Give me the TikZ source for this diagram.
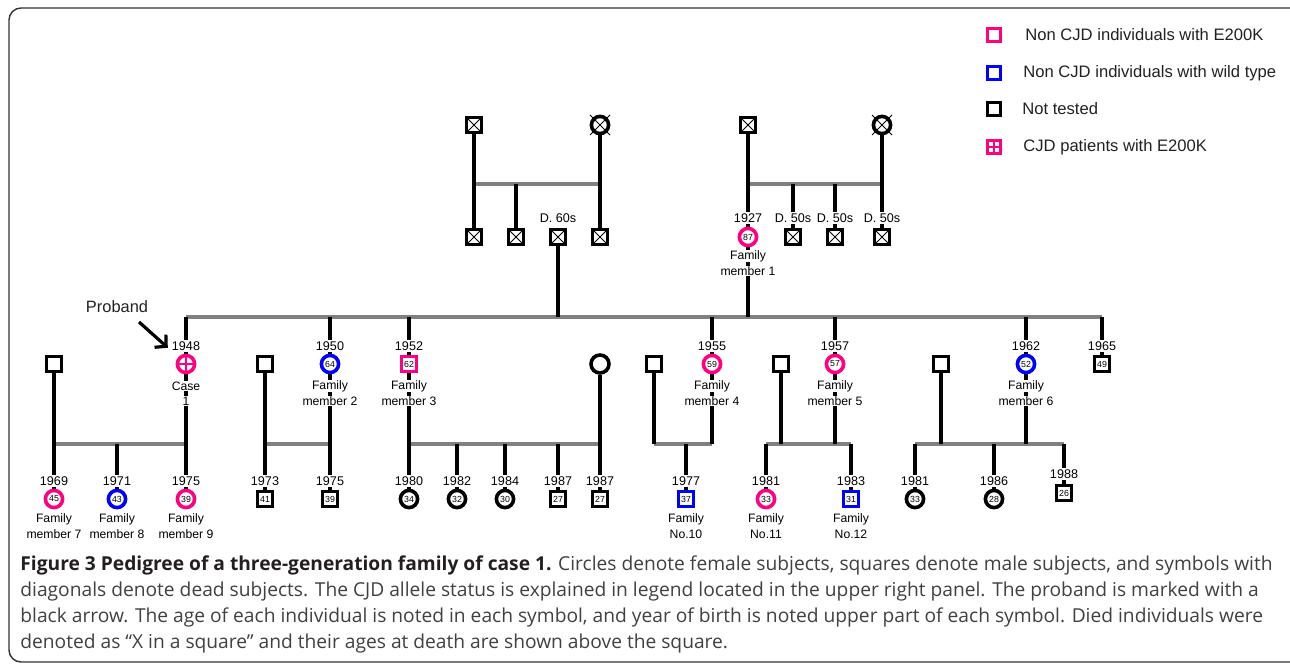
\documentclass[tikz,border=0pt]{standalone}
\usepackage{fontspec}
\setmainfont{Liberation Sans}
\newfontfamily\capfont{Open Sans}
\usetikzlibrary{arrows.meta}
\pgfdeclarelayer{bg}
\pgfsetlayers{bg,main}
\definecolor{cjdpink}{RGB}{255,0,128}
\definecolor{cjdblue}{RGB}{0,0,255}
\definecolor{sibgray}{RGB}{128,128,128}
\definecolor{capgray}{RGB}{64,64,64}
\definecolor{capdark}{RGB}{35,31,32}
\definecolor{framegray}{RGB}{50,50,50}
\tikzset{
  sym/.style={draw=black, line width=1.8pt, fill=white, inner sep=0pt, font=\fontsize{4.4}{4.4}\selectfont},
  male/.style={sym, rectangle, minimum size=7.6pt},
  female/.style={sym, circle, minimum size=8.6pt},
  epk/.style={draw=cjdpink},
  wt/.style={draw=cjdblue},
  deadsq/.style={path picture={\draw[line width=0.5pt] (path picture bounding box.north west) -- (path picture bounding box.south east) (path picture bounding box.north east) -- (path picture bounding box.south west);}},
  cjdcross/.style={path picture={\draw[cjdpink, line width=1.2pt] (path picture bounding box.north) -- (path picture bounding box.south) (path picture bounding box.west) -- (path picture bounding box.east);}},
  yr/.style={fill=white, inner sep=0.6pt, font=\fontsize{6.3}{7}\selectfont},
  lab/.style={fill=white, inner sep=0.4pt, font=\fontsize{6.1}{7}\selectfont},
  ln/.style={line width=1.6pt, black},
  sib/.style={line width=1.6pt, sibgray},
  legtext/.style={anchor=west, inner sep=0pt, font=\fontsize{8.3}{9}\selectfont, text=black!87},
  captext/.style={anchor=base west, inner sep=0pt, font=\capfont\fontsize{9.6}{11}\selectfont, text=capgray},
  probarrow/.style={line width=1.6pt, -{Straight Barb[length=4pt, width=8.5pt, line width=1.6pt]}}
}
\begin{document}
\begin{tikzpicture}[x=0.5pt, y=-0.5pt]
\useasboundingbox (0,0) rectangle (1290,664);
% frame
\draw[framegray, line width=0.7pt, rounded corners=6pt] (1295,8) -- (9,8) -- (9,662) -- (1295,662);

% ---------- Generation I ----------
\node[male, deadsq] (gf1) at (474,125) {};
\node[female] (gm1) at (600,125) {};
\node[male, deadsq] (gf2) at (748,125) {};
\node[female] (gm2) at (882,125) {};
\coordinate (s1l) at (474,184);
\coordinate (s1r) at (600,184);
\coordinate (s2l) at (748,184);
\coordinate (s2r) at (882,184);

\node[male, deadsq] (u1) at (474,237) {};
\node[male, deadsq] (u2) at (516,237) {};
\node[male, deadsq] (u3) at (558,237) {};
\node[male, deadsq] (u4) at (600,237) {};
\node[female, epk] (fm1) at (748,237) {87};
\node[male, deadsq] (u5) at (793,237) {};
\node[male, deadsq] (u6) at (835,237) {};
\node[male, deadsq] (u7) at (882,237) {};
\node[yr] at (558,218) {D. 60s};
\node[yr] at (748,218) {1927};
\node[yr] at (793,218) {D. 50s};
\node[yr] at (835,218) {D. 50s};
\node[yr] at (882,218) {D. 50s};
\node[lab] at (748,256) {Family};
\node[lab] at (748,271) {member 1};

\coordinate (m1) at (186,317);
\coordinate (m2) at (1102,317);

% ---------- Generation II ----------
\node[female, epk, cjdcross] (case1) at (186,364) {};
\node[female, wt] (mem2) at (330,364) {64};
\node[male, epk] (mem3) at (409,364) {62};
\node[female, epk] (mem4) at (712,364) {59};
\node[female, epk] (mem5) at (835,364) {57};
\node[female, wt] (mem6) at (1026,364) {52};
\node[male] (b65) at (1102,364) {49};
\node[male] (sp1) at (54,364) {};
\node[male] (sp2) at (265,364) {};
\node[female, minimum size=9pt] (sp3) at (600,364) {};
\node[male] (sp4) at (654,364) {};
\node[male] (sp5) at (781,364) {};
\node[male] (sp6) at (941,364) {};

\node[yr] at (186,346) {1948};
\node[yr] at (330,346) {1950};
\node[yr] at (409,346) {1952};
\node[yr] at (712,346) {1955};
\node[yr] at (835,346) {1957};
\node[yr] at (1026,346) {1962};
\node[yr] at (1102,346) {1965};
\node[lab] at (186,386) {Case};
\node[lab] at (186,401) {1};
\foreach \x/\n in {330/2, 409/3, 712/4, 835/5, 1026/6} {
  \node[lab] at (\x,386) {Family};
  \node[lab] at (\x,401) {member \n};
}

% ---------- Generation III ----------
\coordinate (sA) at (54,444);   \coordinate (sAr) at (186,444);
\coordinate (sB) at (265,444);  \coordinate (sBr) at (330,444);
\coordinate (sC) at (409,444);  \coordinate (sCr) at (600,444);
\coordinate (sD) at (654,444);  \coordinate (sDr) at (712,444);
\coordinate (sE) at (766,444);  \coordinate (sEr) at (851,444);
\coordinate (sF) at (915,444);  \coordinate (sFr) at (1064,444);

\node[female, epk] (a1) at (54,499) {45};
\node[female, wt] (a2) at (117,499) {43};
\node[female, epk] (a3) at (186,499) {39};
\node[male] (b1) at (265,499) {41};
\node[male] (b2) at (330,499) {39};
\node[female] (c1) at (409,499) {34};
\node[female] (c2) at (457,499) {32};
\node[female] (c3) at (505,499) {30};
\node[male] (c4) at (558,499) {27};
\node[male] (c5) at (600,499) {27};
\node[male, wt] (d1) at (686,499) {37};
\node[female, epk] (e1) at (766,499) {33};
\node[male, wt] (e2) at (851,499) {31};
\node[female] (f1) at (915,499) {33};
\node[female] (f2) at (994,499) {28};
\node[male] (f3) at (1064,493) {26};

\foreach \x/\y in {54/1969, 117/1971, 186/1975, 265/1973, 330/1975, 409/1980, 457/1982, 505/1984, 558/1987, 600/1987, 686/1977, 766/1981, 851/1983, 915/1981, 994/1986}
  \node[yr] at (\x,481) {\y};
\node[yr] at (1064,474) {1988};
\foreach \x/\n in {54/member 7, 117/member 8, 186/member 9, 686/No.10, 766/No.11, 851/No.12} {
  \node[lab] at (\x,519) {Family};
  \node[lab] at (\x,534) {\n};
}

% dead X marks on circles
\foreach \n in {gm1, gm2}
  \draw[line width=0.5pt] ([shift={(-5pt,-5pt)}]\n.center) -- ([shift={(5pt,5pt)}]\n.center)
                          ([shift={(-5pt,5pt)}]\n.center) -- ([shift={(5pt,-5pt)}]\n.center);

% ---------- connectors ----------
\begin{pgfonlayer}{bg}
  \draw[sib] (s1l) -- (s1r);
  \draw[sib] (s2l) -- (s2r);
  \draw[sib] (m1) -- (m2);
  \draw[sib] (sA) -- (sAr);
  \draw[sib] (sB) -- (sBr);
  \draw[sib] (sC) -- (sCr);
  \draw[sib] (sD) -- (sDr);
  \draw[sib] (sE) -- (sEr);
  \draw[sib] (sF) -- (sFr);
  % generation I
  \draw[ln] (gf1) -- (u1);
  \draw[ln] (gm1) -- (u4);
  \draw[ln] (u2) -- (u2 |- s1l);
  \draw[ln] (u3) -- (u3 |- m1);
  \draw[ln] (gf2) -- (fm1);
  \draw[ln] (fm1) -- (fm1 |- m1);
  \draw[ln] (gm2) -- (u7);
  \draw[ln] (u5) -- (u5 |- s2l);
  \draw[ln] (u6) -- (u6 |- s2l);
  % generation II to main line
  \foreach \n in {case1, mem2, mem3, mem4, mem5, mem6, b65}
    \draw[ln] (\n) -- (\n |- m1);
  % generation II to III
  \draw[ln] (sp1) -- (a1);
  \draw[ln] (case1) -- (a3);
  \draw[ln] (a2) -- (a2 |- sA);
  \draw[ln] (sp2) -- (b1);
  \draw[ln] (mem2) -- (b2);
  \draw[ln] (mem3) -- (c1);
  \draw[ln] (sp3) -- (c5);
  \foreach \n in {c2, c3, c4} \draw[ln] (\n) -- (\n |- sC);
  \foreach \n in {sp4, mem4, d1} \draw[ln] (\n) -- (\n |- sD);
  \foreach \n in {sp5, mem5, e1, e2} \draw[ln] (\n) -- (\n |- sE);
  \foreach \n in {sp6, mem6, f1, f2, f3} \draw[ln] (\n) -- (\n |- sF);
\end{pgfonlayer}

% ---------- proband ----------
\node[font=\fontsize{8.2}{9}\selectfont, text=black!87, inner sep=0pt] (prob) at (117,307) {Proband};
\coordinate (arrs) at (139,322);
\draw[probarrow, shorten >=7pt] (arrs) -- (case1);

% ---------- legend ----------
\node[male, epk, minimum size=6.6pt] (lg1) at (994,35) {};
\node[male, wt, minimum size=6.6pt] (lg2) at (994,73) {};
\node[male, minimum size=6.6pt] (lg3) at (994,109) {};
\node[male, epk, cjdcross, minimum size=6.6pt] (lg4) at (994,147) {};
\node[legtext] (lt1) at (1025,35) {Non CJD individuals with E200K};
\node[legtext] (lt2) at (1023,73) {Non CJD individuals with wild type};
\node[legtext] (lt3) at (1022,109) {Not tested};
\node[legtext] (lt4) at (1023,147) {CJD patients with E200K};

% ---------- caption ----------
\node[captext] (cap1) at (20,570) {{\bfseries\color{capdark}Figure 3 Pedigree of a three-generation family of case 1.} Circles denote female subjects, squares denote male subjects, and symbols with};
\node[captext] (cap2) at (20,596) {diagonals denote dead subjects. The CJD allele status is explained in legend located in the upper right panel. The proband is marked with a};
\node[captext] (cap3) at (20,622) {black arrow. The age of each individual is noted in each symbol, and year of birth is noted upper part of each symbol. Died individuals were};
\node[captext] (cap4) at (20,648) {denoted as “X in a square” and their ages at death are shown above the square.};
\end{tikzpicture}
\end{document}
